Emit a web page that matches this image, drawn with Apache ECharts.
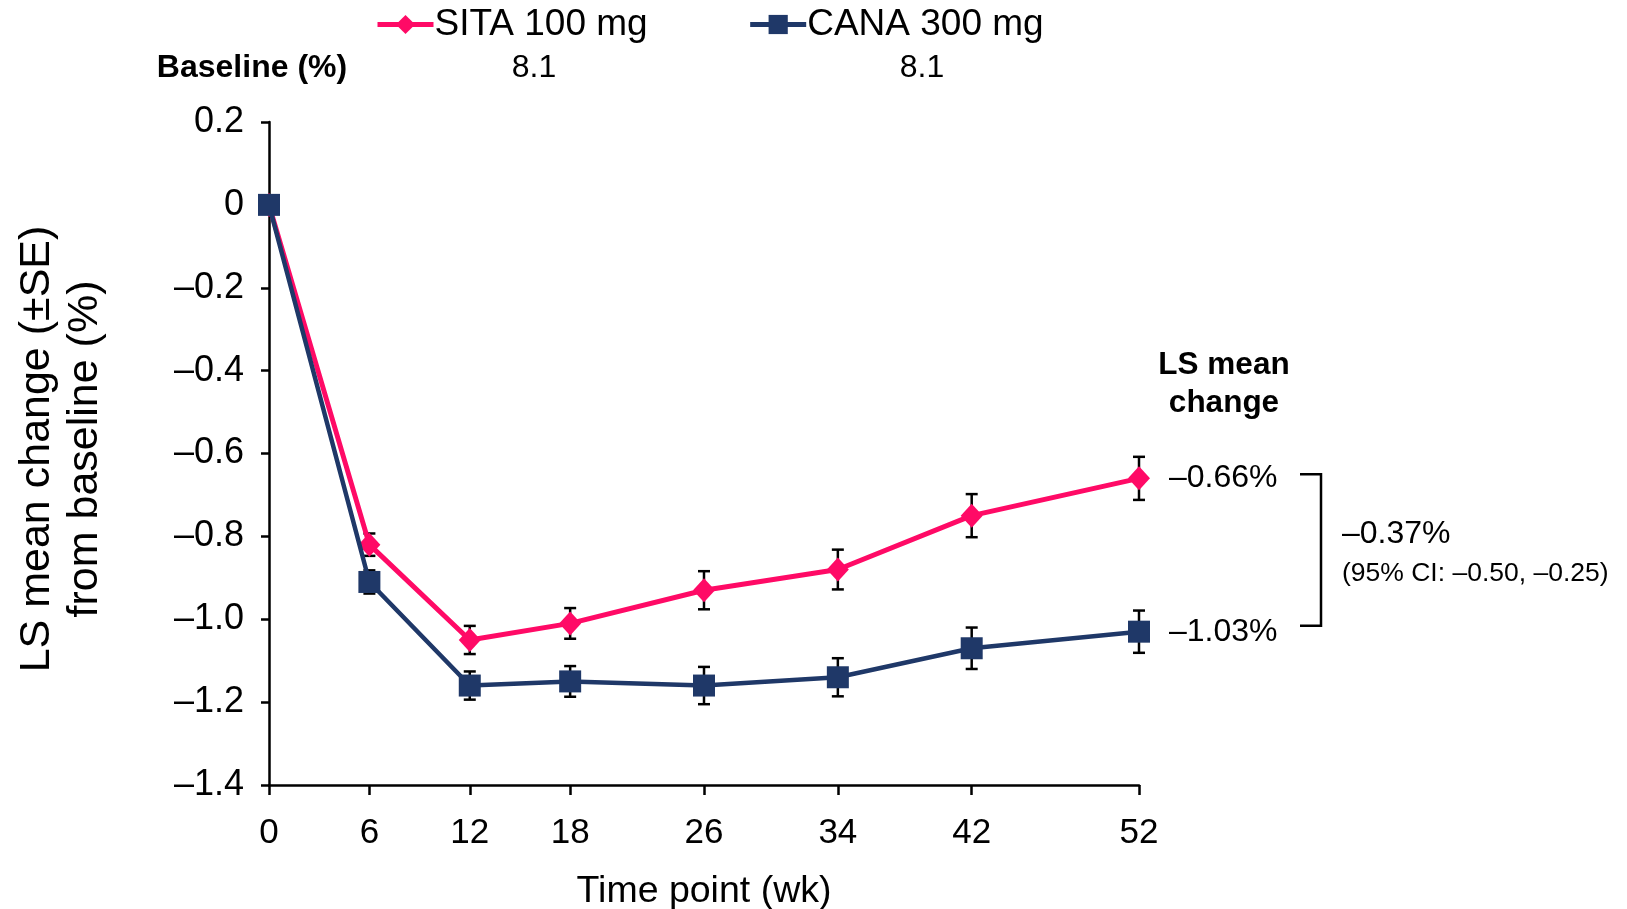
<!DOCTYPE html>
<html>
<head>
<meta charset="utf-8">
<title>LS mean change from baseline</title>
<script src="https://cdn.jsdelivr.net/npm/echarts@6/dist/echarts.min.js"></script>
<style>
  html, body { margin: 0; padding: 0; background: #fff; }
  #chart { width: 1627px; height: 909px; }
</style>
</head>
<body>
<div id="chart"></div>
<script>
// Study weeks (x positions and tick labels)
const weeks = [0, 6, 12, 18, 26, 34, 42, 52];

// LS mean change from baseline (%) and standard errors
const sitaMean = [0, -0.82, -1.05, -1.01, -0.93, -0.88, -0.75, -0.66];
const sitaSE   = [0, 0.027, 0.034, 0.037, 0.046, 0.048, 0.052, 0.052];
const canaMean = [0, -0.91, -1.16, -1.15, -1.16, -1.14, -1.07, -1.03];
const canaSE   = [0, 0.028, 0.034, 0.037, 0.045, 0.046, 0.050, 0.051];

const seriesNames = ['SITA 100 mg', 'CANA 300 mg'];
const baselines = ['8.1', '8.1'];
const ciText = '(95% CI: \u20130.50, \u20130.25)';

const FONT = '"Liberation Sans", Arial, Helvetica, sans-serif';
const PINK = '#FF0A66';
const NAVY = '#1F3868';

const fmtPct = v => (v < 0 ? '\u2013' : '') + Math.abs(v).toFixed(2) + '%';

const toPoints = means => weeks.map((w, i) => [w, means[i]]);
const toBars = (means, se) => weeks
  .map((w, i) => [w, means[i] - se[i], means[i] + se[i]])
  .filter((d, i) => se[i] > 0);

function renderErrorBar(params, api) {
  const x = api.value(0);
  const top = api.coord([x, api.value(2)]);
  const bot = api.coord([x, api.value(1)]);
  const hw = 6;
  const style = { stroke: '#000', lineWidth: 2.5 };
  return {
    type: 'group',
    children: [
      { type: 'line', shape: { x1: top[0], y1: top[1], x2: bot[0], y2: bot[1] }, style },
      { type: 'line', shape: { x1: top[0] - hw, y1: top[1], x2: top[0] + hw, y2: top[1] }, style },
      { type: 'line', shape: { x1: bot[0] - hw, y1: bot[1], x2: bot[0] + hw, y2: bot[1] }, style }
    ]
  };
}

const chart = echarts.init(document.getElementById('chart'), null, { renderer: 'canvas' });

const endLabel = {
  show: true,
  distance: 30,
  fontFamily: FONT,
  fontSize: 32,
  color: '#000',
  formatter: p => fmtPct(p.value[1])
};

chart.setOption({
  animation: false,
  backgroundColor: '#fff',
  textStyle: { fontFamily: FONT, color: '#000' },
  grid: { left: 269, right: 488, top: 122, bottom: 124, outerBoundsMode: 'none', containLabel: false },
  legend: {
    data: [
      { name: seriesNames[0], lineStyle: { width: 5 } },
      { name: seriesNames[1], lineStyle: { width: 5 } }
    ],
    left: 375,
    top: 6,
    padding: 0,
    itemWidth: 56,
    itemHeight: 24,
    itemGap: 100,
    lineStyle: { width: 5 },
    textStyle: { fontFamily: FONT, fontSize: 37, color: '#000', padding: [0, 0, 0, -4] }
  },
  xAxis: {
    type: 'value',
    min: 0,
    max: 52,
    name: 'Time point (wk)',
    nameLocation: 'middle',
    nameGap: 88,
    nameTextStyle: { fontFamily: FONT, fontSize: 37.5, color: '#000' },
    splitLine: { show: false },
    axisLine: { show: true, onZero: false, lineStyle: { color: '#000', width: 2.5 } },
    axisTick: { show: true, customValues: weeks, length: 10, lineStyle: { color: '#000', width: 2.5 } },
    axisLabel: { customValues: weeks, margin: 31, fontFamily: FONT, fontSize: 35, color: '#000' }
  },
  yAxis: {
    type: 'value',
    min: -1.4,
    max: 0.2,
    interval: 0.2,
    splitLine: { show: false },
    axisLine: { show: true, onZero: false, lineStyle: { color: '#000', width: 2.5 } },
    axisTick: { show: true, length: 8, lineStyle: { color: '#000', width: 2.5 } },
    axisLabel: {
      margin: 25,
      fontFamily: FONT,
      fontSize: 36,
      color: '#000',
      formatter: v => {
        const r = Math.round(v * 10) / 10;
        return r === 0 ? '0' : (r < 0 ? '\u2013' : '') + Math.abs(r).toFixed(1);
      }
    }
  },
  series: [
    {
      type: 'custom',
      name: 'SITA SE',
      renderItem: renderErrorBar,
      data: toBars(sitaMean, sitaSE),
      encode: { x: 0, y: [1, 2] },
      z: 1,
      silent: true
    },
    {
      type: 'custom',
      name: 'CANA SE',
      renderItem: renderErrorBar,
      data: toBars(canaMean, canaSE),
      encode: { x: 0, y: [1, 2] },
      z: 1,
      silent: true
    },
    {
      type: 'line',
      name: seriesNames[0],
      data: toPoints(sitaMean),
      symbol: 'diamond',
      symbolSize: [22, 24],
      showAllSymbol: true,
      lineStyle: { color: PINK, width: 5 },
      itemStyle: { color: PINK, borderWidth: 0 },
      endLabel: endLabel,
      z: 3
    },
    {
      type: 'line',
      name: seriesNames[1],
      data: toPoints(canaMean),
      symbol: 'rect',
      symbolSize: 22,
      showAllSymbol: true,
      lineStyle: { color: NAVY, width: 4.5 },
      itemStyle: { color: NAVY, borderWidth: 0 },
      endLabel: endLabel,
      z: 4
    }
  ]
});

// Annotations placed from the axis scales
const n = weeks.length - 1;
const ySita = chart.convertToPixel({ yAxisIndex: 0 }, sitaMean[n]);
const yCana = chart.convertToPixel({ yAxisIndex: 0 }, canaMean[n]);
const bTop = ySita - 4;
const bBot = yCana - 6;
const bMid = (bTop + bBot) / 2;
const diff = Math.round((canaMean[n] - sitaMean[n]) * 100) / 100;

const txt = (x, y, text, size, extra) => ({
  type: 'text',
  x, y,
  style: Object.assign({
    text, fontFamily: FONT, fontSize: size, fill: '#000',
    align: 'center', verticalAlign: 'middle'
  }, extra || {})
});

chart.setOption({
  graphic: [
    // y-axis title
    {
      type: 'text',
      x: 61, y: 449,
      rotation: Math.PI / 2,
      style: {
        text: 'LS mean change (\u00b1SE)\nfrom baseline (%)',
        fontFamily: FONT, fontSize: 43, lineHeight: 48, fill: '#000',
        align: 'center', verticalAlign: 'middle'
      }
    },
    // baseline row
    txt(252, 68, 'Baseline (%)', 32, { fontWeight: 'bold' }),
    txt(534, 68, baselines[0], 32),
    txt(922, 68, baselines[1], 32),
    // right-hand summary
    txt(1224, 365, 'LS mean', 31.5, { fontWeight: 'bold' }),
    txt(1224, 403, 'change', 31.5, { fontWeight: 'bold' }),
    {
      type: 'polyline',
      shape: { points: [[1300, bTop], [1321, bTop], [1321, bBot], [1300, bBot]] },
      style: { stroke: '#000', lineWidth: 2.5, fill: null }
    },
    txt(1342, bMid - 16, fmtPct(diff), 32, { align: 'left' }),
    txt(1342, bMid + 24, ciText, 26.5, { align: 'left' })
  ]
});
</script>
</body>
</html>
